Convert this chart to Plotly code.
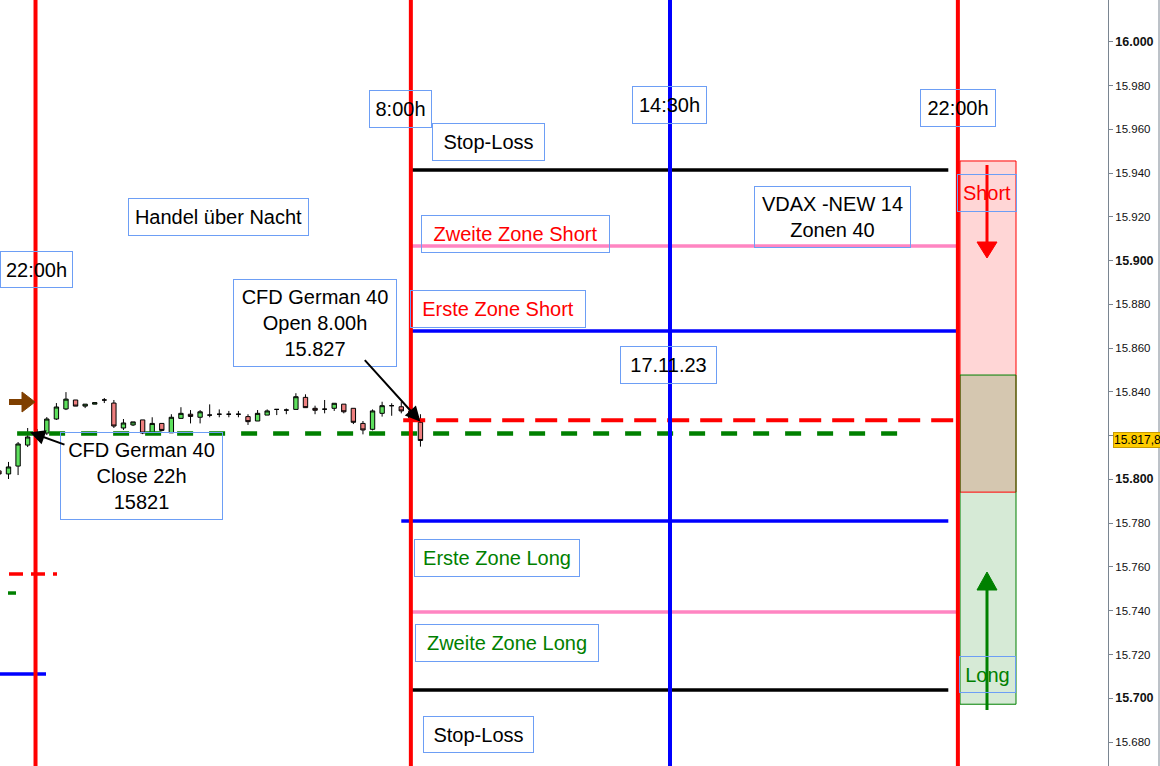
import plotly.graph_objects as go

# ---------------- data ----------------
# 15-minute candles, numbered by position (index)
candle_idx = list(range(-1, 44))
opens = [15803.9, 15802.5, 15806.1, 15815.7, 15819.4, 15821.2, 15827.6, 15832.2, 15836.3, 15833.5,
         15834.4, 15836.3, 15834.9, 15823.5, 15824.9, 15827.2, 15821.3, 15825.6, 15821.3, 15827.9,
         15829.8, 15828.4, 15829.4, 15829.8, 15829.8, 15829.8, 15828.7, 15826.7, 15829.4, 15832.0,
         15831.7, 15832.0, 15837.5, 15832.5, 15832.1, 15832.5, 15834.4, 15832.5, 15825.6, 15822.9,
         15830.2, 15833.7, 15833.2, 15831.3, 15826.1]
highs = [15804.8, 15808.0, 15817.1, 15823.5, 15823.0, 15828.5, 15834.9, 15839.9, 15836.3, 15834.4,
         15835.1, 15837.2, 15836.3, 15827.6, 15826.3, 15827.2, 15828.4, 15825.6, 15829.8, 15833.0,
         15831.7, 15831.7, 15834.3, 15832.0, 15831.3, 15831.3, 15829.8, 15831.7, 15832.0, 15832.0,
         15832.4, 15839.4, 15838.9, 15833.7, 15836.3, 15834.8, 15834.4, 15832.5, 15826.7, 15832.0,
         15835.5, 15834.8, 15835.5, 15832.0, 15829.8]
lows = [15801.6, 15800.2, 15802.0, 15814.8, 15818.0, 15820.3, 15827.2, 15831.7, 15833.5, 15832.6,
        15834.4, 15834.9, 15823.5, 15822.6, 15824.4, 15820.7, 15821.3, 15821.9, 15821.3, 15827.9,
        15825.6, 15825.6, 15828.4, 15828.4, 15828.4, 15828.4, 15824.9, 15826.7, 15829.4, 15829.4,
        15829.8, 15832.0, 15832.8, 15829.8, 15830.2, 15831.3, 15830.2, 15825.3, 15820.6, 15822.4,
        15828.7, 15829.1, 15830.2, 15827.0, 15815.0]
closes = [15802.5, 15805.7, 15816.2, 15819.4, 15821.0, 15827.6, 15833.1, 15836.7, 15833.5, 15834.4,
          15835.1, 15836.3, 15824.4, 15825.8, 15826.3, 15821.2, 15825.6, 15822.4, 15828.4, 15830.2,
          15828.8, 15830.9, 15829.4, 15829.8, 15829.8, 15829.8, 15826.4, 15830.2, 15831.3, 15832.0,
          15831.7, 15837.8, 15832.8, 15831.6, 15832.1, 15834.8, 15830.9, 15826.1, 15822.6, 15831.3,
          15833.7, 15833.7, 15831.3, 15828.0, 15817.8]

# Price levels (horizontal lines)
level_names = ["Stop-Loss Short", "Zweite Zone Short", "Erste Zone Short", "Open 8:00h",
               "Close 22h", "Erste Zone Long", "Zweite Zone Long", "Stop-Loss Long"]
level_prices = [15941.4, 15906.7, 15867.8, 15827.0, 15821.0, 15781.0, 15739.4, 15703.8]
level_start = [42.0, 42.0, 42.0, 41.2, 0.9, 41.0, 42.0, 42.0]
level_end = [98.1, 99.1, 99.1, 99.1, 93.1, 98.1, 99.1, 98.1]

# Previous-day levels (small stubs at the left)
prev_prices = [15756.8, 15748.1, 15711.1]

# Session markers (candle positions)
session_labels = ["22:00h", "8:00h", "14:30h", "22:00h"]
session_pos = [2.82, 42.0, 69.05, 99.1]

# Zone column on the right
short_zone = [15847.7, 15945.5]
long_zone = [15697.3, 15794.2]

last_price = 15817.8
y_ticks = list(range(15680, 16021, 20))

# ---------------- helpers (pixel -> axis units) ----------------
PW, PH = 1108, 766
def xd(px):
    return (px - 8.5) / 9.58
def yd(py):
    return 16000 - (py - 41.7) / 2.1887

FONT = "Liberation Sans, Arial, sans-serif"

fig = go.Figure()
fig.add_trace(go.Candlestick(
    x=candle_idx, open=opens, high=highs, low=lows, close=closes,
    increasing=dict(line=dict(color="black", width=1), fillcolor="#5ee05e"),
    decreasing=dict(line=dict(color="black", width=1), fillcolor="#ee7f7f"),
    whiskerwidth=0, showlegend=False, hoverinfo="skip"))

shapes = []
# zone fills and outlines
shapes.append(dict(type="rect", xref="x", yref="y", x0=xd(960), x1=xd(1016), y0=short_zone[0], y1=short_zone[1],
                   fillcolor="#ffd6d6", line=dict(width=0), layer="below"))
shapes.append(dict(type="rect", xref="x", yref="y", x0=xd(960), x1=xd(1016), y0=long_zone[0], y1=long_zone[1],
                   fillcolor="#d6ead6", line=dict(width=0), layer="below"))
shapes.append(dict(type="rect", xref="x", yref="y", x0=xd(960), x1=xd(1016), y0=long_zone[1], y1=short_zone[0],
                   fillcolor="#d5c7b0", line=dict(width=0), layer="below"))
shapes.append(dict(type="rect", xref="x", yref="y", x0=xd(960), x1=xd(1016), y0=long_zone[1], y1=short_zone[1],
                   fillcolor="rgba(0,0,0,0)", line=dict(color="red", width=1)))
shapes.append(dict(type="rect", xref="x", yref="y", x0=xd(960), x1=xd(1016), y0=long_zone[0], y1=short_zone[0],
                   fillcolor="rgba(0,0,0,0)", line=dict(color="green", width=1)))

# horizontal level lines
lvl_style = [("black", 3.5, "solid"), ("#ff85c2", 3.5, "solid"), ("blue", 3.5, "solid"),
             ("red", 4, "22px,11px"), ("green", 4.5, "16px,16px"), ("blue", 3.5, "solid"),
             ("#ff85c2", 3.5, "solid"), ("black", 3.5, "solid")]
for p, a, b, (c, w, d) in zip(level_prices, level_start, level_end, lvl_style):
    shapes.append(dict(type="line", xref="x", yref="y", x0=a, x1=b, y0=p, y1=p,
                       line=dict(color=c, width=w, dash=d)))

# previous-day stubs
prev_style = [("red", 3.5, "14px,8px", 9, 57), ("green", 3.5, "solid", 8, 16), ("blue", 3.5, "solid", 0, 46)]
for p, (c, w, d, a, b) in zip(prev_prices, prev_style):
    shapes.append(dict(type="line", xref="x", yref="y", x0=xd(a), x1=xd(b), y0=p, y1=p,
                       line=dict(color=c, width=w, dash=d)))

# vertical session lines
sess_col = ["red", "red", "blue", "red"]
for pos, c in zip(session_pos, sess_col):
    shapes.append(dict(type="line", xref="x", yref="paper", x0=pos, x1=pos, y0=0, y1=1,
                       line=dict(color=c, width=4)))

# arrows in the zone column
ax_ = xd(987)
shapes.append(dict(type="line", xref="x", yref="y", x0=ax_, x1=ax_, y0=yd(165), y1=yd(246),
                   line=dict(color="red", width=3)))
shapes.append(dict(type="path", xref="x", yref="y",
                   path=f"M {xd(977)},{yd(242)} L {xd(997)},{yd(242)} L {ax_},{yd(258)} Z",
                   fillcolor="red", line=dict(color="red", width=1)))
shapes.append(dict(type="line", xref="x", yref="y", x0=ax_, x1=ax_, y0=yd(710), y1=yd(586),
                   line=dict(color="green", width=3)))
shapes.append(dict(type="path", xref="x", yref="y",
                   path=f"M {xd(977)},{yd(590)} L {xd(997)},{yd(590)} L {ax_},{yd(572)} Z",
                   fillcolor="green", line=dict(color="green", width=1)))
# brown arrow at the left
shapes.append(dict(type="line", xref="x", yref="y", x0=xd(9), x1=xd(24), y0=yd(402), y1=yd(402),
                   line=dict(color="#7f3f00", width=6)))
shapes.append(dict(type="path", xref="x", yref="y",
                   path=f"M {xd(22)},{yd(392)} L {xd(22)},{yd(412)} L {xd(35)},{yd(402)} Z",
                   fillcolor="#7f3f00", line=dict(color="#7f3f00", width=1)))
# right border of the chart window
shapes.append(dict(type="line", xref="paper", yref="paper", x0=1159 / PW, x1=1159 / PW, y0=0, y1=1,
                   line=dict(color="#7a8591", width=1)))

annotations = []
def box(text, x0, x1, y0, y1, color="black", size=20, align="center"):
    pad, bw = 3, 1
    annotations.append(dict(
        text=text, xref="paper", yref="paper", x=(x0 + x1) / 2 / PW, y=1 - (y0 + y1) / 2 / PH,
        xanchor="center", yanchor="middle", showarrow=False,
        font=dict(family=FONT, size=size, color=color),
        bordercolor="#6d9ef5", borderwidth=bw, borderpad=pad,
        width=(x1 - x0) - 2 * pad - 2 * bw, height=(y1 - y0) - 2 * pad - 2 * bw,
        align=align, valign="middle"))

box(session_labels[0], 0, 73, 251, 288)
box("Handel über Nacht", 128, 309, 198, 236)
box(session_labels[1], 369, 432, 90, 128)
box("Stop-Loss", 432, 545, 123, 161)
box(session_labels[2], 632, 707, 86, 124)
box(session_labels[3], 920, 996, 89, 127)
box("VDAX -NEW 14<br>Zonen 40", 754, 911, 186, 248)
box("Zweite Zone Short", 421, 610, 215, 253, color="red")
box("Erste Zone Short", 410, 586, 290, 328, color="red")
box("CFD German 40<br>Open 8.00h<br>15.827", 233, 397, 279, 367)
box("17.11.23", 620, 717, 346, 384)
box("CFD German 40<br>Close 22h<br>15821", 60, 223, 432, 520)
box("Erste Zone Long", 414, 580, 539, 577, color="green")
box("Zweite Zone Long", 415, 599, 624, 662, color="green")
box("Stop-Loss", 423, 534, 716, 753)
box("Short", 957, 1017, 174, 212, color="red")
box("Long", 959, 1016, 656, 693, color="green")

# black pointer arrows
annotations.append(dict(x=43, y=level_prices[3] - 0.6, xref="x", yref="y", ax=-57, ay=-63,
                        showarrow=True, arrowhead=2, arrowsize=1.5, arrowwidth=2, arrowcolor="black", text=""))
annotations.append(dict(x=xd(30), y=level_prices[4] + 0.6, xref="x", yref="y", ax=36, ay=13,
                        showarrow=True, arrowhead=2, arrowsize=1.5, arrowwidth=2, arrowcolor="black", text=""))

# last price tag on the axis
annotations.append(dict(x=1113 / PW, y=last_price, xref="paper", yref="y", xanchor="left", yanchor="middle",
                        text=f"{last_price:,.1f}".replace(",", "X").replace(".", ",").replace("X", "."),
                        showarrow=False, font=dict(family=FONT, size=12, color="black"),
                        bgcolor="#ffcc00", bordercolor="#c89b00", borderwidth=1, borderpad=0))

def fmt(v):
    s = f"{v:,}".replace(",", ".")
    if abs(v - last_price) < 5:
        return ""  # hidden behind the last-price tag
    return f"<b><span style='font-size:12.5px'>{s}</span></b>" if v % 100 == 0 else s

fig.update_layout(
    width=1160, height=766,
    margin=dict(l=0, r=52, t=0, b=0),
    paper_bgcolor="white", plot_bgcolor="white",
    shapes=shapes, annotations=annotations,
    boxgap=0.35,
    showlegend=False,
    xaxis=dict(range=[xd(0), xd(PW)], visible=False, rangeslider=dict(visible=False),
               showgrid=False, zeroline=False),
    yaxis=dict(range=[yd(766), yd(0)], side="right", showgrid=False, zeroline=False,
               showline=True, linecolor="#7a8591", linewidth=1,
               ticks="outside", ticklen=4, tickcolor="#7a8591",
               tickvals=y_ticks, ticktext=[fmt(v) for v in y_ticks],
               tickfont=dict(family=FONT, size=11.5, color="#111111"), automargin=False),
)

fig.write_html("out.html", config={"displayModeBar": False},
               post_script="document.body.style.margin='0';document.body.style.overflow='hidden';")
